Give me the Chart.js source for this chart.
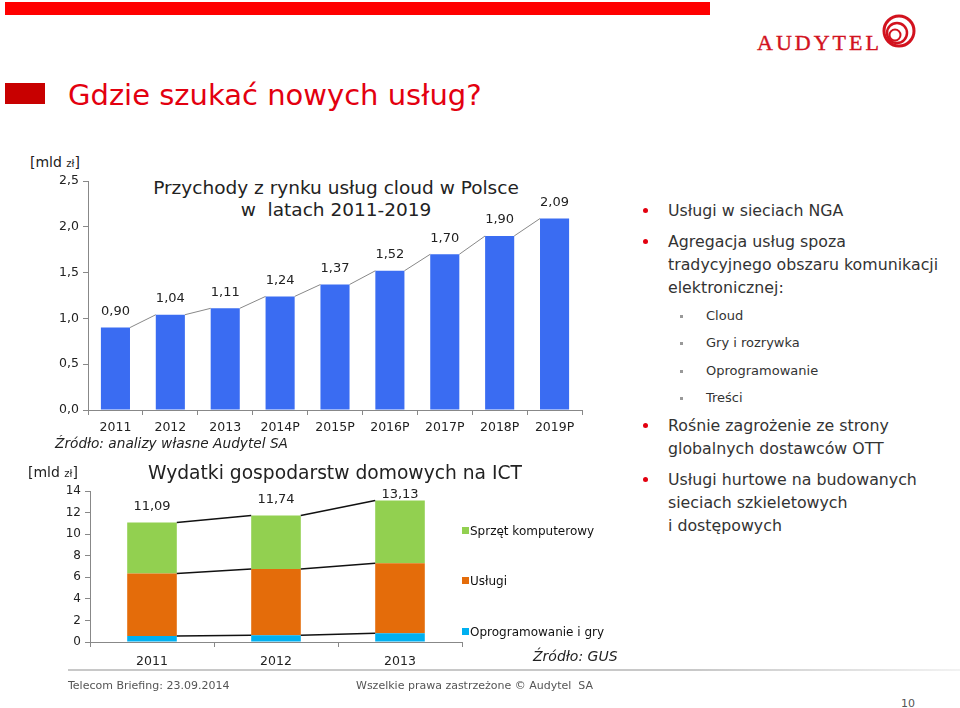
<!DOCTYPE html>
<html lang="pl">
<head>
<meta charset="UTF-8">
<title>Gdzie szukać nowych usług?</title>
<script src="https://cdn.jsdelivr.net/npm/chart.js@4"></script>
<style>
    body { margin: 0; width: 960px; height: 708px; background: #fff; position: relative; overflow: hidden;
           font-family: 'DejaVu Sans', Verdana, sans-serif; color: #222; }
    .abs { position: absolute; white-space: nowrap; }
    .redbar { left: 5px; top: 2px; width: 705px; height: 13px; background: #ff0000; }
    .logo { left: 757px; top: 31px; font-family: 'Liberation Serif', serif; font-size: 22px; color: #d2121e; letter-spacing: 3px; line-height: 24px; -webkit-text-stroke: 0.4px #d2121e; }
    .square { left: 5px; top: 83px; width: 40px; height: 21px; background: #c80000; }
    .heading { left: 68px; top: 76px; font-size: 29px; line-height: 38px; color: #e3000f; }
    .unit { font-size: 14px; line-height: 18px; color: #222; }
    .unit small { font-size: 10px; }
    .ctitle { font-size: 18.5px; line-height: 22px; text-align: center; color: #222; }
    .src { font-size: 13.7px; font-style: italic; line-height: 16px; color: #222; }
    .leg { font-size: 12px; line-height: 16px; color: #111; }
    .leg i { display: inline-block; width: 7px; height: 7px; margin-right: 1px; vertical-align: 1px; }
    .pt { left: 668px; font-size: 15.8px; line-height: 23px; color: #333; }
    .pt::before { content: ''; position: absolute; left: -25px; top: 9px; width: 5px; height: 5px; border-radius: 50%; background: #e3000f; }
    .sub { left: 706px; font-size: 13px; line-height: 18px; color: #333; }
    .sub::before { content: ''; position: absolute; left: -26px; top: 8px; width: 3px; height: 3px; background: #999; }
    .rule { left: 68px; top: 669px; width: 892px; height: 2px; background: linear-gradient(to right, #c8c8c8 0%, #c8c8c8 70%, #f2f2f2 100%); }
    .foot { font-size: 11px; line-height: 14px; color: #555; }
    canvas { position: absolute; }
</style>
</head>
<body>
    <div class="abs redbar"></div>
    <div class="abs logo">AUDYTEL</div>
    <svg class="abs" style="left:879px;top:12px" width="40" height="40" viewBox="0 0 40 40">
        <circle cx="20" cy="19" r="15" fill="none" stroke="#d2121e" stroke-width="3"/>
        <circle cx="18" cy="21" r="10" fill="none" stroke="#d2121e" stroke-width="2.5"/>
        <circle cx="16" cy="23" r="5.5" fill="none" stroke="#d2121e" stroke-width="2"/>
    </svg>
    <div class="abs square"></div>
    <div class="abs heading">Gdzie szukać nowych usług?</div>

    <!-- wykres 1 -->
    <div class="abs unit" style="left:30px;top:153px">[mld <small>zł</small>]</div>
    <div class="abs ctitle" style="left:136px;top:177px;width:400px">Przychody z rynku usług cloud w Polsce<br>w&nbsp; latach 2011-2019</div>
    <canvas id="cloudChart" width="600" height="290" style="left:0;top:150px"></canvas>
    <div class="abs src" style="left:55px;top:435px">Źródło: analizy własne Audytel SA</div>

    <!-- wykres 2 -->
    <div class="abs unit" style="left:28px;top:463px">[mld <small>zł</small>]</div>
    <div class="abs ctitle" style="left:148px;top:461px;font-size:18.7px;line-height:24px">Wydatki gospodarstw domowych na ICT</div>
    <canvas id="ictChart" width="470" height="190" style="left:0;top:480px"></canvas>
    <div class="abs leg" style="left:462px;top:523px"><i style="background:#92d050"></i>Sprzęt komputerowy</div>
    <div class="abs leg" style="left:462px;top:573px"><i style="background:#e46c0a"></i>Usługi</div>
    <div class="abs leg" style="left:462px;top:624px"><i style="background:#00b0f0"></i>Oprogramowanie i gry</div>
    <div class="abs src" style="left:533px;top:648px;font-size:14px">Źródło: GUS</div>

    <!-- punkty po prawej -->
    <div class="abs pt" style="top:199px">Usługi w sieciach NGA</div>
    <div class="abs pt" style="top:230px">Agregacja usług spoza<br>tradycyjnego obszaru komunikacji<br>elektronicznej:</div>
    <div class="abs sub" style="top:307px">Cloud</div>
    <div class="abs sub" style="top:334px">Gry i rozrywka</div>
    <div class="abs sub" style="top:362px">Oprogramowanie</div>
    <div class="abs sub" style="top:389px">Treści</div>
    <div class="abs pt" style="top:414px">Rośnie zagrożenie ze strony<br>globalnych dostawców OTT</div>
    <div class="abs pt" style="top:468px">Usługi hurtowe na budowanych<br>sieciach szkieletowych<br>i dostępowych</div>

    <div class="abs rule"></div>
    <div class="abs foot" style="left:68px;top:679px">Telecom Briefing: 23.09.2014</div>
    <div class="abs foot" style="left:356px;top:679px">Wszelkie prawa zastrzeżone © Audytel&nbsp; SA</div>
    <div class="abs foot" style="left:901px;top:697px">10</div>

<script>
    // Dane z wykresów
    const cloudYears = ['2011', '2012', '2013', '2014P', '2015P', '2016P', '2017P', '2018P', '2019P'];
    const cloudValues = [0.90, 1.04, 1.11, 1.24, 1.37, 1.52, 1.70, 1.90, 2.09];

    const ictYears = ['2011', '2012', '2013'];
    const softwareGames = [0.55, 0.63, 0.82];
    const services = [5.80, 6.15, 6.50];
    const hardware = [4.74, 4.96, 5.81];

    const fmt = (v, d) => v.toFixed(d).replace('.', ',');
    const FONT = "'DejaVu Sans', Verdana, sans-serif";

    Chart.defaults.animation = false;
    Chart.defaults.font.family = FONT;
    Chart.defaults.color = '#222';

    // linie łączące wierzchołki słupków (jak w Excelu)
    const seriesLines = {
        id: 'seriesLines',
        afterDatasetsDraw(chart, args, opts) {
            const ctx = chart.ctx;
            ctx.save();
            ctx.strokeStyle = opts.color;
            ctx.lineWidth = opts.width;
            chart.data.datasets.forEach((ds, di) => {
                const bars = chart.getDatasetMeta(di).data;
                for (let i = 0; i < bars.length - 1; i++) {
                    const a = bars[i], b = bars[i + 1];
                    ctx.beginPath();
                    ctx.moveTo(a.x + a.width / 2, a.y);
                    ctx.lineTo(b.x - b.width / 2, b.y);
                    ctx.stroke();
                }
            });
            ctx.restore();
        }
    };

    const axisBase = {
        grid: { display: true, drawOnChartArea: false, tickLength: 5, color: '#888' },
        border: { display: true, color: '#888' }
    };

    // Przychody cloud
    new Chart(document.getElementById('cloudChart'), {
        type: 'bar',
        data: {
            labels: cloudYears,
            datasets: [{ data: cloudValues, backgroundColor: '#3a6cf2', barPercentage: 0.53, categoryPercentage: 1 }]
        },
        options: {
            responsive: false,
            layout: { padding: { top: 31, right: 18, left: 0, bottom: 0 } },
            plugins: {
                legend: { display: false },
                tooltip: { enabled: false },
                seriesLines: { color: '#888', width: 1 }
            },
            scales: {
                x: {
                    ...axisBase,
                    grid: { ...axisBase.grid, offset: true },
                    ticks: { font: { size: 12.5 }, padding: 5, color: '#222' },
                    afterFit(s) { s.height = 30; }
                },
                y: {
                    ...axisBase,
                    min: 0, max: 2.5,
                    ticks: { stepSize: 0.5, font: { size: 12.5 }, padding: 4, color: '#222', callback: v => fmt(v, 1) },
                    afterFit(s) { s.width = 88; }
                }
            }
        },
        plugins: [seriesLines, {
            id: 'cloudLabels',
            afterDatasetsDraw(chart) {
                const ctx = chart.ctx;
                ctx.save();
                ctx.font = '13px ' + FONT;
                ctx.fillStyle = '#222';
                ctx.textAlign = 'center';
                ctx.textBaseline = 'middle';
                chart.getDatasetMeta(0).data.forEach((bar, i) => {
                    ctx.fillText(fmt(cloudValues[i], 2), bar.x, bar.y - 16);
                });
                ctx.restore();
            }
        }]
    });

    // Wydatki gospodarstw domowych na ICT
    new Chart(document.getElementById('ictChart'), {
        type: 'bar',
        data: {
            labels: ictYears,
            datasets: [
                { label: 'Oprogramowanie i gry', data: softwareGames, backgroundColor: '#00b0f0' },
                { label: 'Usługi', data: services, backgroundColor: '#e46c0a' },
                { label: 'Sprzęt komputerowy', data: hardware, backgroundColor: '#92d050' }
            ].map(d => ({ ...d, barPercentage: 0.4, categoryPercentage: 1 }))
        },
        options: {
            responsive: false,
            layout: { padding: { top: 7, right: 8, left: 0, bottom: 0 } },
            plugins: {
                legend: { display: false },
                tooltip: { enabled: false },
                seriesLines: { color: '#111', width: 1.5 }
            },
            scales: {
                x: {
                    ...axisBase,
                    stacked: true,
                    grid: { ...axisBase.grid, offset: true },
                    ticks: { font: { size: 12.5 }, padding: 7, color: '#222' },
                    afterFit(s) { s.height = 28; }
                },
                y: {
                    ...axisBase,
                    stacked: true,
                    min: 0, max: 14,
                    ticks: { stepSize: 2, font: { size: 12 }, padding: 4, color: '#222' },
                    afterFit(s) { s.width = 90; }
                }
            }
        },
        plugins: [seriesLines, {
            id: 'ictTotals',
            afterDatasetsDraw(chart) {
                const ctx = chart.ctx;
                const top = chart.getDatasetMeta(2).data;
                ctx.save();
                ctx.font = '13px ' + FONT;
                ctx.fillStyle = '#222';
                ctx.textAlign = 'center';
                ctx.textBaseline = 'middle';
                top.forEach((bar, i) => {
                    const total = softwareGames[i] + services[i] + hardware[i];
                    const y = Math.max(bar.y - 16, chart.chartArea.top + 3);
                    ctx.fillText(fmt(total, 2), bar.x, y);
                });
                ctx.restore();
            }
        }]
    });
</script>
</body>
</html>
